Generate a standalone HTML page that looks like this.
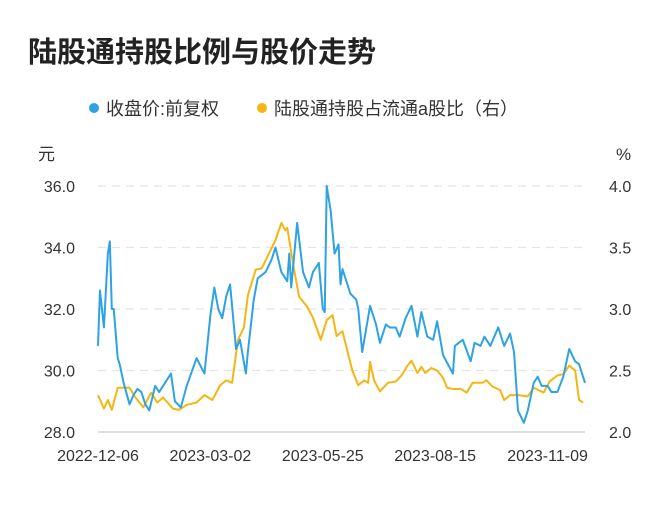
<!DOCTYPE html>
<html><head><meta charset="utf-8"><style>
body{margin:0;background:#fff;}
svg text{font-family:"Liberation Sans","Noto Sans CJK SC",sans-serif;}
</style></head><body>
<svg width="672" height="500" viewBox="0 0 672 500">
<text x="28" y="62" font-size="29" font-weight="bold" fill="#222">陆股通持股比例与股价走势</text>
<g><circle cx="94" cy="108" r="5" fill="#2ea3e3"/><text x="106" y="115" font-size="18" fill="#333">收盘价:前复权</text></g>
<g><circle cx="262" cy="108" r="5" fill="#f5b614"/><text x="274" y="115" font-size="18" fill="#333">陆股通持股占流通a股比（右）</text></g>
<text x="38" y="160" font-size="17" fill="#333">元</text>
<text x="616" y="160" font-size="17" fill="#333">%</text>
<g id="grid"></g><g id="lines"></g>
</svg>
<script>
const priceDays=[0,1,3,5,6,7,8,10,11,13,16,18,20,22,24,26,29,31,34,37,39,42,45,50,54,57,59,61,63,65,67,70,72,75,76,79,81,85,88,90,93,96,97,98,101,104,107,109,112,114,115,116,118,120,122,123,124,128,131,132,134,138,141,143,146,148,151,153,156,159,162,164,167,170,172,175,180,181,185,189,191,194,196,199,203,206,209,211,213,216,218,221,223,225,228,230,233,236,239,242,244,247];
const priceVals=[30.8,32.6,31.4,33.8,34.2,32.0,32.0,30.4,30.2,29.6,28.9,29.2,29.4,29.3,28.9,28.7,29.5,29.3,29.6,29.9,29.0,28.8,29.5,30.4,29.9,31.8,32.7,32.0,31.7,32.4,32.8,30.7,31.0,29.9,30.6,32.3,33.0,33.2,33.6,34.0,33.2,32.9,33.8,32.7,34.8,33.2,32.7,33.2,33.5,32.0,31.9,36.0,35.2,33.8,34.1,32.8,33.3,32.5,32.3,32.0,30.6,32.1,31.5,30.9,31.5,31.4,31.4,31.1,31.7,32.1,31.1,31.9,31.1,31.0,31.6,30.5,29.9,30.8,31.0,30.3,30.9,30.8,31.1,30.8,31.4,30.8,31.2,30.6,28.7,28.3,28.7,29.6,29.8,29.5,29.5,29.3,29.3,29.8,30.7,30.3,30.2,29.6];
const holdDays=[0,3,5,7,10,16,19,23,27,30,33,38,41,45,50,54,58,62,65,68,71,74,76,80,83,87,90,93,95,96,99,102,106,109,113,116,119,121,124,126,129,132,135,137,138,140,143,147,151,154,157,159,162,164,166,169,172,175,177,180,184,187,190,195,197,200,204,206,209,213,218,221,226,229,233,236,239,242,244,246];
const holdVals=[2.30,2.19,2.26,2.18,2.36,2.36,2.28,2.20,2.32,2.24,2.28,2.19,2.18,2.22,2.24,2.30,2.26,2.38,2.42,2.40,2.75,2.85,3.11,3.32,3.33,3.46,3.56,3.70,3.64,3.66,3.36,3.10,3.02,2.93,2.75,2.91,2.95,2.78,2.82,2.69,2.50,2.38,2.42,2.40,2.57,2.42,2.33,2.40,2.41,2.46,2.54,2.58,2.48,2.53,2.48,2.52,2.50,2.44,2.36,2.35,2.35,2.32,2.40,2.40,2.42,2.37,2.34,2.26,2.30,2.30,2.29,2.36,2.32,2.41,2.46,2.47,2.54,2.50,2.26,2.24];
const leftTicks=[28,30,32,34,36];
const rightTicks=[2.0,2.5,3.0,3.5,4.0];
const xLabels=["2022-12-06","2023-03-02","2023-05-25","2023-08-15","2023-11-09"];
const xLabelDays=[0,57,114,171,228];
const maxDay=247;
const NS="http://www.w3.org/2000/svg";
const X=d=>98+d*(487/maxDay);
const YL=v=>432-(v-28)*(246/8);
const YR=v=>432-(v-2)*(246/2);
const grid=document.getElementById('grid'),lines=document.getElementById('lines');
function mk(tag,attrs,parent){const e=document.createElementNS(NS,tag);for(const k in attrs)e.setAttribute(k,attrs[k]);parent.appendChild(e);return e;}
leftTicks.forEach((t,i)=>{
 const y=YL(t);
 const g=mk('line',{x1:98,x2:585,y1:y,y2:y,stroke:i==0?'#ccc':'#e4e4e4','stroke-width':1.2,'stroke-dasharray':i==0?'':'8,6'},grid);
 
 
 const tx=mk('text',{x:75,y:y+6,'font-size':16,fill:'#333','text-anchor':'end'},grid);tx.textContent=t.toFixed(1);
 
 
});
rightTicks.forEach(t=>{
 const tx=mk('text',{x:609,y:YR(t)+6,'font-size':16,fill:'#333'},grid);tx.textContent=t.toFixed(1);
 
 
});
xLabels.forEach((l,i)=>{
 const tx=mk('text',{x:X(xLabelDays[i]),y:461,'font-size':16,fill:'#333','text-anchor':'middle'},grid);tx.textContent=l;
 
 
});
const p1=mk('polyline',{points:holdDays.map((d,i)=>X(d)+','+YR(holdVals[i])).join(' '),fill:'none',stroke:'#f5b614','stroke-width':2,'stroke-linejoin':'round'},lines);


const p2=mk('polyline',{points:priceDays.map((d,i)=>X(d)+','+YL(priceVals[i])).join(' '),fill:'none',stroke:'#2ea3e3','stroke-width':2,'stroke-linejoin':'round'},lines);


</script>
</body></html>
